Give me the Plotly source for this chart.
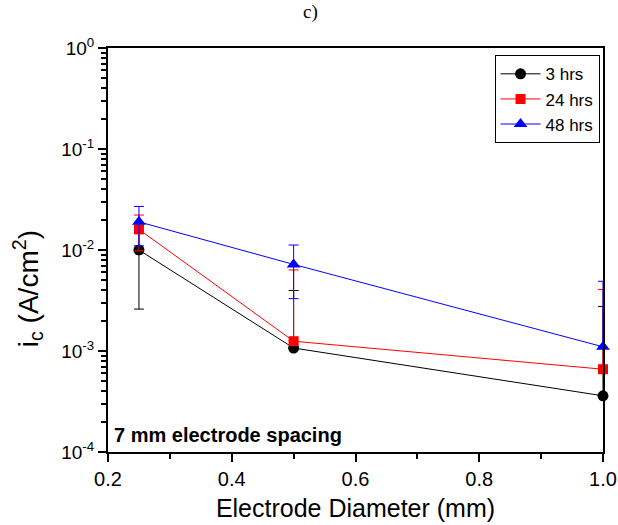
import plotly.graph_objects as go

diam = [0.25, 0.5, 1.0]

ic_3h = [0.0100, 0.00107, 0.00036]
err_3h_plus = [0.0074, 0.0029, 0.0024]
err_3h_minus = [0.0074, 0.0, 0.0]

ic_24h = [0.0160, 0.00125, 0.00066]
err_24h_plus = [0.0062, 0.0051, 0.0034]
err_24h_minus = [0.0062, 0.0, 0.0]

ic_48h = [0.0190, 0.0072, 0.00110]
err_48h_plus = [0.0080, 0.0040, 0.0038]
err_48h_minus = [0.0080, 0.0039, 0.0]

y_tickvals = [1e-4, 1e-3, 1e-2, 1e-1, 1e0]
y_ticktext = ["10<sup>-4</sup>", "10<sup>-3</sup>", "10<sup>-2</sup>", "10<sup>-1</sup>", "10<sup>0</sup>"]
y_minorvals = [m * 10.0 ** e for e in range(-4, 0) for m in range(2, 10)]

series = [
    ("3 hrs", ic_3h, err_3h_plus, err_3h_minus, "black", "circle", 11),
    ("24 hrs", ic_24h, err_24h_plus, err_24h_minus, "red", "square", 10),
    ("48 hrs", ic_48h, err_48h_plus, err_48h_minus, "blue", "triangle-up", 12),
]

FONT = "Arial, Liberation Sans, sans-serif"

fig = go.Figure()
for name, y, ep, em, col, sym, sz in series:
    fig.add_trace(go.Scatter(
        x=diam, y=y, name=name, mode="lines+markers",
        line=dict(color=col, width=1),
        marker=dict(color=col, symbol=sym, size=sz),
        error_y=dict(type="data", symmetric=False, array=ep, arrayminus=em,
                     color=col, thickness=1, width=5),
        cliponaxis=False,
    ))

fig.add_annotation(
    text="<b>7 mm electrode spacing</b>", xref="paper", yref="paper",
    x=0.008, y=0.01, xanchor="left", yanchor="bottom", showarrow=False,
    font=dict(family=FONT, size=20, color="black"),
)
fig.add_annotation(
    text="c)", xref="paper", yref="paper", x=0.41, y=1.0, yshift=36,
    xanchor="center", yanchor="middle", showarrow=False,
    font=dict(family="Times New Roman, Liberation Serif, serif", size=19, color="black"),
)
fig.add_annotation(
    text="i<sub>c</sub> (A/cm<sup>2</sup>)", xref="paper", yref="paper",
    x=0, xshift=-80, y=0.403, xanchor="center", yanchor="middle",
    textangle=-90, showarrow=False,
    font=dict(family=FONT, size=28, color="black"),
)

fig.update_layout(
    width=618, height=525,
    margin=dict(l=108, r=15, t=48, b=73),
    paper_bgcolor="white", plot_bgcolor="white",
    font=dict(family=FONT, size=20, color="black"),
    showlegend=True,
    legend=dict(x=0.993, y=0.982, xanchor="right", yanchor="top",
                bordercolor="black", borderwidth=1, bgcolor="white",
                font=dict(size=17), tracegroupgap=0, itemwidth=40),
    xaxis=dict(
        range=[0.2, 1.0], dtick=0.2, tick0=0.2, tickformat=".1f",
        ticks="outside", ticklen=8, tickwidth=1.5, tickcolor="black",
        showline=True, linecolor="black", linewidth=2, mirror=True,
        showgrid=False, zeroline=False, automargin=False,
        tickfont=dict(size=20),
        minor=dict(ticks="outside", ticklen=5, dtick=0.1, tickcolor="black", showgrid=False),
        title=dict(text="Electrode Diameter (mm)", font=dict(size=25), standoff=10),
    ),
    yaxis=dict(
        type="log", range=[-4, 0],
        tickmode="array", tickvals=y_tickvals, ticktext=y_ticktext,
        ticks="outside", ticklen=8, tickwidth=1.5, tickcolor="black",
        showline=True, linecolor="black", linewidth=2, mirror=True,
        showgrid=False, zeroline=False, automargin=False,
        tickfont=dict(size=19),
        minor=dict(ticks="outside", ticklen=5, tickmode="array", tickvals=y_minorvals,
                   tickcolor="black", showgrid=False),
    ),
)

fig.write_html("out.html")
